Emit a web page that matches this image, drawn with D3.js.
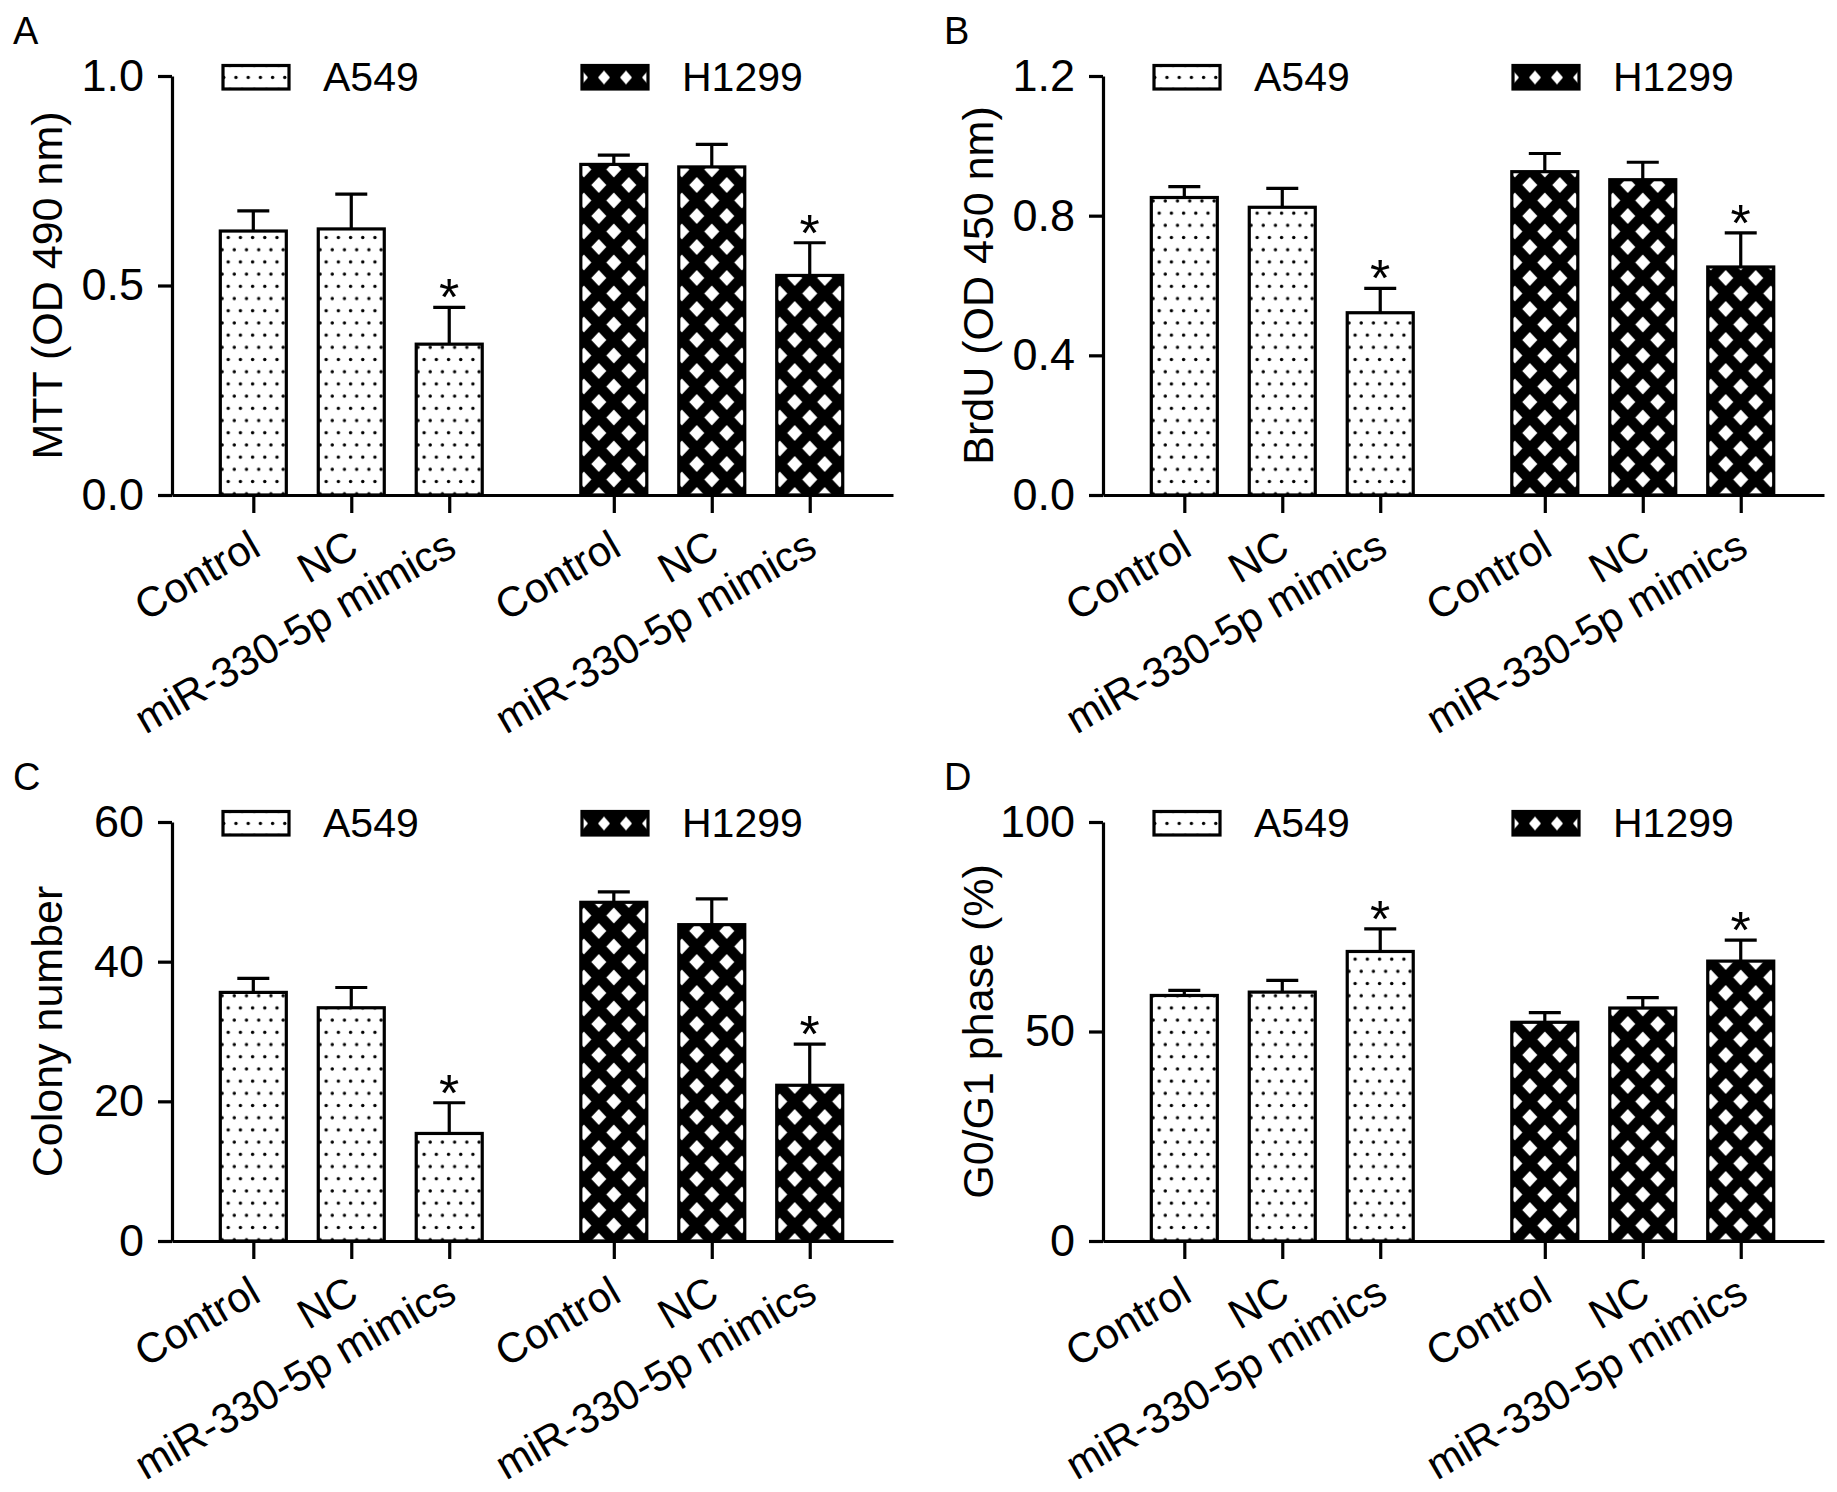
<!DOCTYPE html>
<html>
<head>
<meta charset="utf-8">
<script src="https://cdn.jsdelivr.net/npm/d3@7"></script>
<style>
  body { margin: 0; background: #fff; }
  text { font-family: "Liberation Sans", Arial, sans-serif; fill: #000; }
</style>
</head>
<body>
<div id="chart"></div>
<script>
// ---- data ----
var categories = ["Control", "NC", "miR-330-5p mimics"];
var seriesNames = ["A549", "H1299"];

// A: MTT (OD 490 nm)
var mttA549 = [0.63, 0.635, 0.36];
var mttA549Err = [0.048, 0.083, 0.088];
var mttH1299 = [0.789, 0.783, 0.524];
var mttH1299Err = [0.022, 0.054, 0.078];
var mttTicks = [0, 0.5, 1.0];

// B: BrdU (OD 450 nm)
var brduA549 = [0.852, 0.824, 0.522];
var brduA549Err = [0.031, 0.054, 0.07];
var brduH1299 = [0.926, 0.903, 0.653];
var brduH1299Err = [0.052, 0.05, 0.098];
var brduTicks = [0, 0.4, 0.8, 1.2];

// C: Colony number
var colA549 = [35.6, 33.4, 15.4];
var colA549Err = [2.0, 2.9, 4.4];
var colH1299 = [48.5, 45.3, 22.3];
var colH1299Err = [1.5, 3.7, 5.9];
var colTicks = [0, 20, 40, 60];

// D: G0/G1 phase (%)
var g1A549 = [58.6, 59.4, 69.1];
var g1A549Err = [1.2, 2.8, 5.4];
var g1H1299 = [52.2, 55.6, 66.8];
var g1H1299Err = [2.3, 2.5, 5.0];
var g1Ticks = [0, 50, 100];

// which bars carry a significance star (index within each cell line)
var starred = [false, false, true];

// ---- layout ----
var svgWidth = 1837, svgHeight = 1492;
var plotW = 721, plotH = 419;
var slots = [0, 1, 2, 3.68, 4.68, 5.68];   // bar slots, gap between cell lines
var barW = 66, capW = 32, lw = 3.2;

var panels = [
  { letter: "A", title: "MTT (OD 490 nm)", ticks: mttTicks, fmt: d3.format(".1f"),
    a: mttA549, aErr: mttA549Err, h: mttH1299, hErr: mttH1299Err, left: 172, top: 76 },
  { letter: "B", title: "BrdU (OD 450 nm)", ticks: brduTicks, fmt: d3.format(".1f"),
    a: brduA549, aErr: brduA549Err, h: brduH1299, hErr: brduH1299Err, left: 1103, top: 76 },
  { letter: "C", title: "Colony number", ticks: colTicks, fmt: d3.format("d"),
    a: colA549, aErr: colA549Err, h: colH1299, hErr: colH1299Err, left: 172, top: 822 },
  { letter: "D", title: "G0/G1 phase (%)", ticks: g1Ticks, fmt: d3.format("d"),
    a: g1A549, aErr: g1A549Err, h: g1H1299, hErr: g1H1299Err, left: 1103, top: 822 }
];

var svg = d3.select("#chart").append("svg")
  .attr("width", svgWidth)
  .attr("height", svgHeight)
  .style("background", "#fff");

var defs = svg.append("defs");

function diamondPath(cx, cy, hw, hh) {
  return "M" + (cx - hw) + "," + cy + "L" + cx + "," + (cy - hh) +
         "L" + (cx + hw) + "," + cy + "L" + cx + "," + (cy + hh) + "Z";
}

// white with staggered dots (A549)
function dotPattern(id, x0, y0) {
  var p = defs.append("pattern").attr("id", id)
    .attr("patternUnits", "userSpaceOnUse")
    .attr("x", x0).attr("y", y0)
    .attr("width", 12.2).attr("height", 24.4);
  p.append("rect").attr("width", 12.2).attr("height", 24.4).attr("fill", "#fff");
  p.append("circle").attr("cx", 3).attr("cy", 3).attr("r", 1.7).attr("fill", "#000");
  p.append("circle").attr("cx", 9.1).attr("cy", 15.2).attr("r", 1.7).attr("fill", "#000");
}

// black with white diamonds (H1299)
function diamondPattern(id, x0, y0) {
  var w = 30, h = 31;
  var p = defs.append("pattern").attr("id", id)
    .attr("patternUnits", "userSpaceOnUse")
    .attr("x", x0).attr("y", y0)
    .attr("width", w).attr("height", h);
  p.append("rect").attr("width", w).attr("height", h).attr("fill", "#000");
  [[w / 2, h / 2], [0, 0], [w, 0], [0, h], [w, h]].forEach(function(c) {
    p.append("path").attr("d", diamondPath(c[0], c[1], 7.5, 8)).attr("fill", "#fff");
  });
}

function legendDiamondPattern(id, x0, y0) {
  var p = defs.append("pattern").attr("id", id)
    .attr("patternUnits", "userSpaceOnUse")
    .attr("x", x0).attr("y", y0)
    .attr("width", 22).attr("height", 24);
  p.append("rect").attr("width", 22).attr("height", 24).attr("fill", "#000");
  [[0, 12], [22, 12]].forEach(function(c) {
    p.append("path").attr("d", diamondPath(c[0], c[1], 6, 7)).attr("fill", "#fff");
  });
}

panels.forEach(function(pn, pi) {
  var g = svg.append("g").attr("transform", `translate(${pn.left}, ${pn.top})`);

  var x = d3.scaleLinear().domain([-0.83, 6.53]).range([0, plotW]);
  var y = d3.scaleLinear().domain([0, d3.max(pn.ticks)]).range([plotH, 0]);

  // one row per bar
  var bars = [];
  pn.a.forEach(function(v, i) {
    bars.push({ slot: slots[i], value: v, err: pn.aErr[i], series: 0, star: starred[i] });
  });
  pn.h.forEach(function(v, i) {
    bars.push({ slot: slots[i + 3], value: v, err: pn.hErr[i], series: 1, star: starred[i] });
  });

  bars.forEach(function(d, i) {
    var id = "pat" + pi + "-" + i;
    var cx = x(d.slot);
    if (d.series === 0) dotPattern(id, cx - barW / 2 - 1.2, 0);
    else diamondPattern(id, cx - 15, plotH);
    d.pat = id;
  });

  // bars
  g.selectAll(".bar")
    .data(bars)
    .enter()
    .append("rect")
    .attr("class", "bar")
    .attr("x", d => x(d.slot) - barW / 2)
    .attr("y", d => y(d.value))
    .attr("width", barW)
    .attr("height", d => y(0) - y(d.value))
    .attr("fill", d => `url(#${d.pat})`)
    .attr("stroke", "#000")
    .attr("stroke-width", lw);

  // error bars (upper only)
  g.selectAll(".err")
    .data(bars)
    .enter()
    .append("line")
    .attr("x1", d => x(d.slot))
    .attr("x2", d => x(d.slot))
    .attr("y1", d => y(d.value))
    .attr("y2", d => y(d.value + d.err))
    .attr("stroke", "#000")
    .attr("stroke-width", lw);

  g.selectAll(".cap")
    .data(bars)
    .enter()
    .append("line")
    .attr("x1", d => x(d.slot) - capW / 2)
    .attr("x2", d => x(d.slot) + capW / 2)
    .attr("y1", d => y(d.value + d.err))
    .attr("y2", d => y(d.value + d.err))
    .attr("stroke", "#000")
    .attr("stroke-width", lw);

  // significance stars
  g.selectAll(".star")
    .data(bars.filter(d => d.star))
    .enter()
    .append("text")
    .attr("x", d => x(d.slot))
    .attr("y", d => y(d.value + d.err) + 8)
    .attr("text-anchor", "middle")
    .attr("font-size", 52)
    .text("*");

  // y axis
  var leftAxis = d3.axisLeft(y)
    .tickValues(pn.ticks)
    .tickSize(14)
    .tickSizeOuter(0)
    .tickPadding(14)
    .tickFormat(pn.fmt);
  var yAxis = g.append("g").call(leftAxis)
    .attr("font-size", 45)
    .attr("font-family", null);
  yAxis.selectAll("path, line").attr("stroke", "#000").attr("stroke-width", lw);

  // x axis
  var bottomAxis = d3.axisBottom(x)
    .tickValues(slots)
    .tickSize(18)
    .tickSizeOuter(0)
    .tickFormat((d, i) => categories[i % 3]);
  var xAxis = g.append("g")
    .attr("transform", `translate(0, ${plotH})`)
    .call(bottomAxis)
    .attr("font-size", 42)
    .attr("font-family", null);
  xAxis.selectAll("path, line").attr("stroke", "#000").attr("stroke-width", lw);
  xAxis.selectAll("text")
    .attr("x", 0)
    .attr("y", 0)
    .attr("dy", null)
    .attr("text-anchor", "end")
    .attr("transform", "translate(9, 59) rotate(-30)");

  // y axis title
  g.append("text")
    .attr("transform", `translate(-110, ${plotH / 2}) rotate(-90)`)
    .attr("text-anchor", "middle")
    .attr("font-size", 43)
    .text(pn.title);

  // panel letter
  g.append("text")
    .attr("x", -159)
    .attr("y", -32)
    .attr("font-size", 38)
    .text(pn.letter);

  // legend
  var legX = [51, 410];
  var ly = -10.5;
  dotPattern("leg" + pi + "-0", legX[0] + 3.9, ly - 3.2);
  legendDiamondPattern("leg" + pi + "-1", legX[1], ly);

  seriesNames.forEach(function(name, si) {
    g.append("rect")
      .attr("x", legX[si])
      .attr("y", ly)
      .attr("width", 66)
      .attr("height", 23.5)
      .attr("fill", `url(#leg${pi}-${si})`)
      .attr("stroke", "#000")
      .attr("stroke-width", lw);
    g.append("text")
      .attr("x", legX[si] + 100)
      .attr("y", 15)
      .attr("font-size", 41)
      .text(name);
  });
});
</script>
</body>
</html>
